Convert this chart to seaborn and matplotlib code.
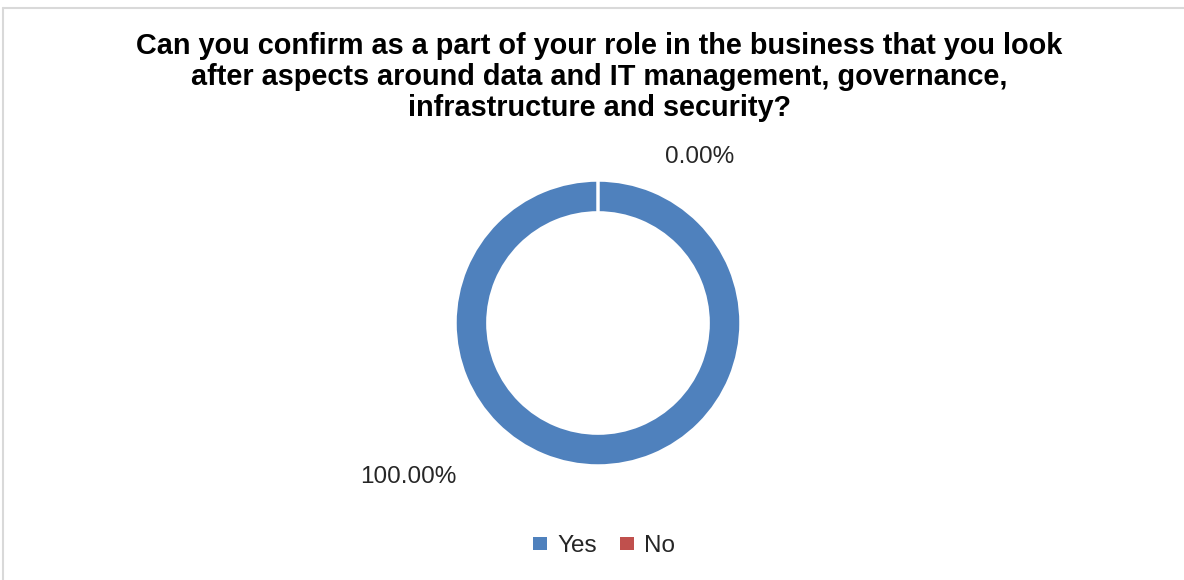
import matplotlib
matplotlib.use("Agg")
import matplotlib.pyplot as plt
from matplotlib.lines import Line2D
from matplotlib.patches import Patch
import seaborn as sns

categories = ["Yes", "No"]
values = [100.0, 0.0]
label_texts = ["100.00%", "0.00%"]
title = ("Can you confirm as a part of your role in the business that you look\n"
         "after aspects around data and IT management, governance,\n"
         "infrastructure and security?")

sns.set_theme(style="white")
plt.rcParams['font.family'] = ['Liberation Sans', 'DejaVu Sans']

colors = ["#4F81BD", "#C0504D"]

W, H = 1184, 580
fig = plt.figure(figsize=(W / 100, H / 100), dpi=100)
ax = fig.add_axes([0, 0, 1, 1])
ax.set_xlim(0, W)
ax.set_ylim(0, H)
ax.set_aspect("equal")
ax.axis("off")

cx, cy, r = 598, H - 323, 143
ax.pie(values, colors=colors, startangle=90, counterclock=False,
       center=(cx, cy), radius=r,
       wedgeprops=dict(width=r * 0.23, edgecolor="white", linewidth=2.5))
ax.set_xlim(0, W)
ax.set_ylim(0, H)

ax.text(408, H - 477, label_texts[0], ha="center", va="center", fontsize=17.5, color="#262626")
ax.text(700, H - 157, label_texts[1], ha="center", va="center", fontsize=17.5, color="#262626")

fig.text(599 / W, 1 - 77 / H, title, ha="center", va="center", fontsize=20.8,
         fontweight="bold", color="black", linespacing=1.14)

handles = [Patch(facecolor=c, edgecolor="none") for c in colors]
fig.legend(handles, categories, loc="center", bbox_to_anchor=(604 / W, 1 - 546 / H),
           ncol=2, frameon=False, fontsize=17.5, handlelength=0.6, handleheight=0.45,
           handletextpad=0.4, columnspacing=0.95)

fig.add_artist(Line2D([3 / W, 1], [1 - 8 / H, 1 - 8 / H], transform=fig.transFigure,
                      color="#d9d9d9", linewidth=1.5))
fig.add_artist(Line2D([3 / W, 3 / W], [0, 1 - 8 / H], transform=fig.transFigure,
                      color="#d9d9d9", linewidth=1.5))

fig.savefig("out.png", dpi=100, facecolor="white")
